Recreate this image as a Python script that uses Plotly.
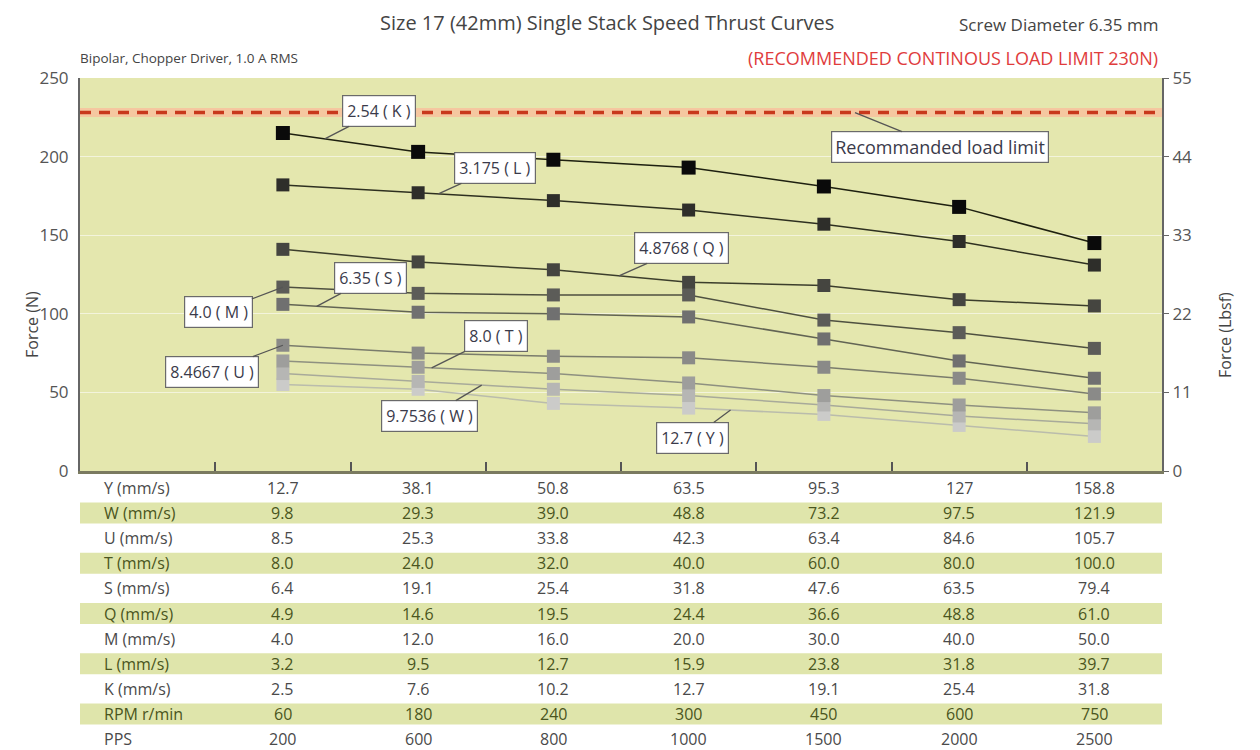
import plotly.graph_objects as go

# ---------------- data ----------------
PPS = ["200", "600", "800", "1000", "1500", "2000", "2500"]
RPM = ["60", "180", "240", "300", "450", "600", "750"]

series_names = ["2.54 ( K )", "3.175 ( L )", "4.8768 ( Q )", "4.0 ( M )", "6.35 ( S )",
                "8.4667 ( U )", "8.0 ( T )", "9.7536 ( W )", "12.7 ( Y )"]
force_K = [215, 203, 198, 193, 181, 168, 145]
force_L = [182, 177, 172, 166, 157, 146, 131]
force_Q = [141, 133, 128, 120, 118, 109, 105]
force_M = [117, 113, 112, 112, 96, 88, 78]
force_S = [106, 101, 100, 98, 84, 70, 59]
force_U = [80, 75, 73, 72, 66, 59, 49]
force_T = [70, 66, 62, 56, 48, 42, 37]
force_W = [62, 57, 52, 48, 42, 35, 30]
force_Y = [55, 52, 43, 40, 36, 29, 22]
LOAD_LIMIT = 228

speed_Y = ["12.7", "38.1", "50.8", "63.5", "95.3", "127", "158.8"]
speed_W = ["9.8", "29.3", "39.0", "48.8", "73.2", "97.5", "121.9"]
speed_U = ["8.5", "25.3", "33.8", "42.3", "63.4", "84.6", "105.7"]
speed_T = ["8.0", "24.0", "32.0", "40.0", "60.0", "80.0", "100.0"]
speed_S = ["6.4", "19.1", "25.4", "31.8", "47.6", "63.5", "79.4"]
speed_Q = ["4.9", "14.6", "19.5", "24.4", "36.6", "48.8", "61.0"]
speed_M = ["4.0", "12.0", "16.0", "20.0", "30.0", "40.0", "50.0"]
speed_L = ["3.2", "9.5", "12.7", "15.9", "23.8", "31.8", "39.7"]
speed_K = ["2.5", "7.6", "10.2", "12.7", "19.1", "25.4", "31.8"]
table_labels = ["Y (mm/s)", "W (mm/s)", "U (mm/s)", "T (mm/s)", "S (mm/s)", "Q (mm/s)",
                "M (mm/s)", "L (mm/s)", "K (mm/s)", "RPM r/min", "PPS"]
table_rows = [speed_Y, speed_W, speed_U, speed_T, speed_S, speed_Q,
              speed_M, speed_L, speed_K, RPM, PPS]

# ---------------- layout geometry (screen pixels) ----------------
FONT = "Open Sans"
W, H = 1260, 750
OFF = 8                       # page body offset of the plot div
PLOT_L, PLOT_R, PLOT_T, PLOT_B = 80, 1162, 78, 471   # wanted plot box on screen
L_M = PLOT_L - OFF
T_M = PLOT_T - OFF
R_M = W - (PLOT_R - OFF)
B_M = H - (PLOT_B - OFF)
PW, PH = PLOT_R - PLOT_L, PLOT_B - PLOT_T


def px(x):
    return (x - PLOT_L) / PW


def py(y):
    return (PLOT_B - y) / PH


series = [force_K, force_L, force_Q, force_M, force_S, force_U, force_T, force_W, force_Y]
marker_colors = ["#0a0a0a", "#2e2e2a", "#454540", "#5c5c58", "#707070",
                 "#8a8a88", "#9e9e9c", "#b6b6b4", "#cbcbc9"]
line_colors = ["#1e2010", "#2e3020", "#3c3e2c", "#4e5040", "#626454",
               "#7a7c6c", "#8e9080", "#a8aa9a", "#babcac"]
marker_sizes = [14, 13, 13, 13, 13, 13, 13, 13, 13]

cats = [" "] + PPS

fig = go.Figure()

for name, ys, mc, lc, ms in reversed(list(zip(series_names, series, marker_colors, line_colors, marker_sizes))):
    fig.add_trace(go.Scatter(x=PPS, y=ys, name=name, mode="lines+markers",
                             line=dict(color=lc, width=1.5),
                             marker=dict(symbol="square", size=ms, color=mc),
                             showlegend=False))

# invisible trace to activate right axis
fig.add_trace(go.Scatter(x=[PPS[0]], y=[0], yaxis="y2", mode="markers",
                         marker=dict(opacity=0), hoverinfo="skip", showlegend=False))

fig.update_layout(
    width=W, height=H,
    margin=dict(l=L_M, r=R_M, t=T_M, b=B_M),
    paper_bgcolor="white",
    plot_bgcolor="#e4e7ae",
    font=dict(family=FONT, color="#555555", size=14),
    xaxis=dict(type="category", categoryorder="array", categoryarray=cats,
               range=[-0.5, 7.5], tickson="boundaries", ticks="inside", ticklen=9,
               tickcolor="#555555", tickwidth=1.5, showticklabels=False,
               showgrid=False, showline=True, linecolor="#7a7a60", linewidth=2.5,
               zeroline=False, fixedrange=True),
    yaxis=dict(range=[0, 250], dtick=50, showgrid=True, gridcolor="#f3f4dc", gridwidth=1,
               showline=True, linecolor="#666666", linewidth=2, ticks="", ticklabelstandoff=6,
               tickfont=dict(size=17, color="#555555"), zeroline=False),
    yaxis2=dict(range=[0, 55], dtick=11, overlaying="y", side="right", showgrid=False,
                showline=True, linecolor="#666666", linewidth=2, ticks="outside",
                ticklen=5, tickcolor="#666666", tickfont=dict(size=17, color="#555555"),
                zeroline=False),
)

shapes = []
# load limit: pale glow + dashed red line
shapes.append(dict(type="line", xref="paper", yref="y", x0=0, x1=1, y0=LOAD_LIMIT, y1=LOAD_LIMIT,
                   line=dict(color="#f5c7a0", width=9), layer="below"))
shapes.append(dict(type="line", xref="paper", yref="y", x0=0, x1=1, y0=LOAD_LIMIT, y1=LOAD_LIMIT,
                   line=dict(color="#c8381c", width=3.5, dash="11px,8px"), layer="above"))

ann = []
# header texts
ann.append(dict(text="Size 17 (42mm) Single Stack Speed Thrust Curves", x=px(607), y=py(22),
                xref="paper", yref="paper", showarrow=False, xanchor="center", yanchor="middle",
                font=dict(size=20, color="#444444")))
ann.append(dict(text="Screw Diameter 6.35 mm", x=px(1160), y=py(24), xref="paper", yref="paper",
                showarrow=False, xanchor="right", yanchor="middle", font=dict(size=17, color="#444444")))
ann.append(dict(text="Bipolar, Chopper Driver, 1.0 A RMS", x=px(78), y=py(58), xref="paper",
                yref="paper", showarrow=False, xanchor="left", yanchor="middle",
                font=dict(size=13.5, color="#444444")))
ann.append(dict(text="(RECOMMENDED CONTINOUS LOAD LIMIT 230N)", x=px(1160), y=py(58), xref="paper",
                yref="paper", showarrow=False, xanchor="right", yanchor="middle",
                font=dict(size=18, color="#e03c3c")))
# axis titles
ann.append(dict(text="Force (N)", x=px(19), y=py(325), xref="paper", yref="paper", showarrow=False,
                textangle=-90, font=dict(size=16, color="#444444")))
ann.append(dict(text="Force (Lbsf)", x=px(1238), y=py(335), xref="paper", yref="paper",
                showarrow=False, textangle=-90, font=dict(size=16, color="#444444")))

# table
row_y0, row_step = 488, 25.1
band_color = "#dfe5ab"
for r, (lab, vals) in enumerate(zip(table_labels, table_rows)):
    yc = row_y0 + r * row_step
    green = (r % 2 == 1)
    tcol = "#4a5520" if green else "#4a4a4a"
    if green:
        shapes.append(dict(type="rect", xref="paper", yref="paper", x0=0, x1=1,
                           y0=py(yc + 10.5), y1=py(yc - 10.5), fillcolor=band_color,
                           line=dict(width=0), layer="below"))
    ann.append(dict(text=lab, x=px(102), y=py(yc), xref="paper", yref="paper", showarrow=False,
                    xanchor="left", yanchor="middle", font=dict(size=16, color=tcol)))
    for ci, v in enumerate(vals):
        ann.append(dict(text=v, x=ci + 1, y=py(yc), xref="x", yref="paper", showarrow=False,
                        xanchor="center", yanchor="middle", font=dict(size=16, color=tcol)))

# callouts: (series index, segment index, fraction, box centre px)
callouts = [
    (0, 0, 0.31, (379, 111)),
    (1, 1, 0.15, (495, 168)),
    (2, 2, 0.485, (682, 248)),
    (3, 0, 0.0, (218, 312)),
    (4, 0, 0.25, (370, 278)),
    (5, 0, 0.0, (212, 372)),
    (6, 1, 0.10, (496, 336)),
    (7, 1, 0.47, (430, 416)),
    (8, 3, 0.31, (693, 438)),
]
ystep = PH / 250.0
for si, seg, t, (bx, by) in callouts:
    ys = series[si]
    yv = ys[seg] + (ys[seg + 1] - ys[seg]) * t
    xc = seg + 1 + t                      # category-axis coordinate
    xpx = PLOT_L + (xc + 0.5) * PW / 8.0
    ypx = PLOT_B - yv * ystep
    ann.append(dict(text=series_names[si], x=xc, y=yv, xref="x", yref="y",
                    ax=bx - xpx, ay=by - ypx, showarrow=True, arrowhead=0, arrowwidth=1.3,
                    arrowcolor="#555555", bgcolor="white", bordercolor="#6a6a6a", borderwidth=1.2,
                    borderpad=4, font=dict(size=16, color="#3a3a4a")))

# load limit callout
lx = 855
ann.append(dict(text="Recommanded load limit", x=px(lx), y=LOAD_LIMIT, xref="paper", yref="y",
                ax=940 - lx, ay=147 - (PLOT_B - LOAD_LIMIT * ystep), showarrow=True, arrowhead=0,
                arrowwidth=1.3, arrowcolor="#555555", bgcolor="white", bordercolor="#6a6a6a",
                borderwidth=1.2, borderpad=3, font=dict(size=18, color="#3a3a4a")))

fig.update_layout(annotations=ann, shapes=shapes)
fig.write_html("out.html")
